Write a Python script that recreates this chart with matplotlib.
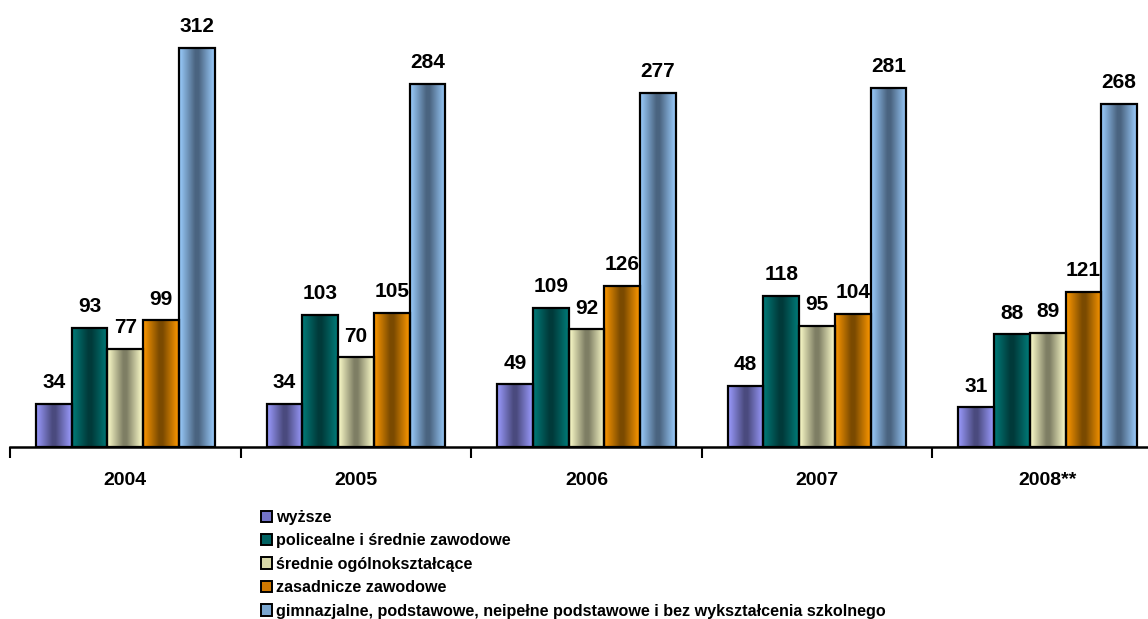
import numpy as np
import matplotlib
matplotlib.use("Agg")
import matplotlib.pyplot as plt
from matplotlib.colors import LinearSegmentedColormap
from matplotlib.patches import Patch

years = ["2004", "2005", "2006", "2007", "2008**"]
series_names = [
    "wyższe",
    "policealne i średnie zawodowe",
    "średnie ogólnokształcące",
    "zasadnicze zawodowe",
    "gimnazjalne, podstawowe, neipełne podstawowe i bez wykształcenia szkolnego",
]
wyzsze = [34, 34, 49, 48, 31]
policealne = [93, 103, 109, 118, 88]
srednie_ogolne = [77, 70, 92, 95, 89]
zasadnicze = [99, 105, 126, 104, 121]
gimnazjalne = [312, 284, 277, 281, 268]
values = [wyzsze, policealne, srednie_ogolne, zasadnicze, gimnazjalne]

light = ["#9c9cff", "#007c7a", "#ffffcc", "#ff9900", "#9cceff"]
dark = ["#4a4a7e", "#003a3a", "#7e7e64", "#7a4a00", "#4a6480"]
mid = ["#7474c8", "#006262", "#d8d8a8", "#d07800", "#7aa6d0"]

plt.rcParams["font.family"] = ["Liberation Sans", "DejaVu Sans"]
plt.rcParams["font.weight"] = "bold"

W, H = 1148, 619
fig = plt.figure(figsize=(W / 100, H / 100), dpi=100)
px_per_unit = 399 / 312.0
ax_left, ax_bottom_px, group_px = 10, 447, 230.6
ax = fig.add_axes([ax_left / W, (H - ax_bottom_px) / H, 5 * group_px / W, ax_bottom_px / H])
ymax = ax_bottom_px / px_per_unit

n = len(years)
bw = 0.155
x = np.arange(n)
grad = np.linspace(0, 1, 128).reshape(1, -1)
for i, vals in enumerate(values):
    offs = (i - 2) * bw
    cmap = LinearSegmentedColormap.from_list(
        f"c{i}", [(0.0, light[i]), (0.45, dark[i]), (0.55, dark[i]), (1.0, light[i])])
    bars = ax.bar(x + offs, vals, bw, facecolor="none", edgecolor="black", linewidth=1.6, zorder=3)
    for b, v in zip(bars, vals):
        x0 = b.get_x()
        im = ax.imshow(grad, cmap=cmap, extent=[x0, x0 + bw, 0, v], aspect="auto",
                       interpolation="bicubic", zorder=2)
        im.set_clip_path(b)
        ax.annotate(str(v), (b.get_x() + bw / 2, v), xytext=(0, 8.5), textcoords="offset points",
                    ha="center", va="bottom", fontsize=15, fontweight="bold")

ax.set_xlim(-0.5, n - 0.5)
ax.set_ylim(0, ymax)
for s in ["top", "right", "left"]:
    ax.spines[s].set_visible(False)
ax.spines["bottom"].set_linewidth(1.8)
ax.set_yticks([])
ax.set_xticks(np.arange(n + 1) - 0.5)
ax.set_xticklabels([])
ax.tick_params(axis="x", which="major", length=8, width=1.5, direction="out")
ax.set_xticks(x, minor=True)
ax.set_xticklabels(years, minor=True, fontsize=14, fontweight="bold")
ax.tick_params(axis="x", which="minor", length=0, pad=18)

handles = [Patch(facecolor=mid[i], edgecolor="black", linewidth=1.4) for i in range(5)]
fig.legend(handles, series_names, loc="upper left", bbox_to_anchor=(261 / W, 1 - 510 / H),
           frameon=False, prop={"size": 11.6, "weight": "bold"}, handlelength=0.7,
           handleheight=0.7, handletextpad=0.25, labelspacing=0.52, borderpad=0, borderaxespad=0)

fig.savefig("out.png", dpi=100)
